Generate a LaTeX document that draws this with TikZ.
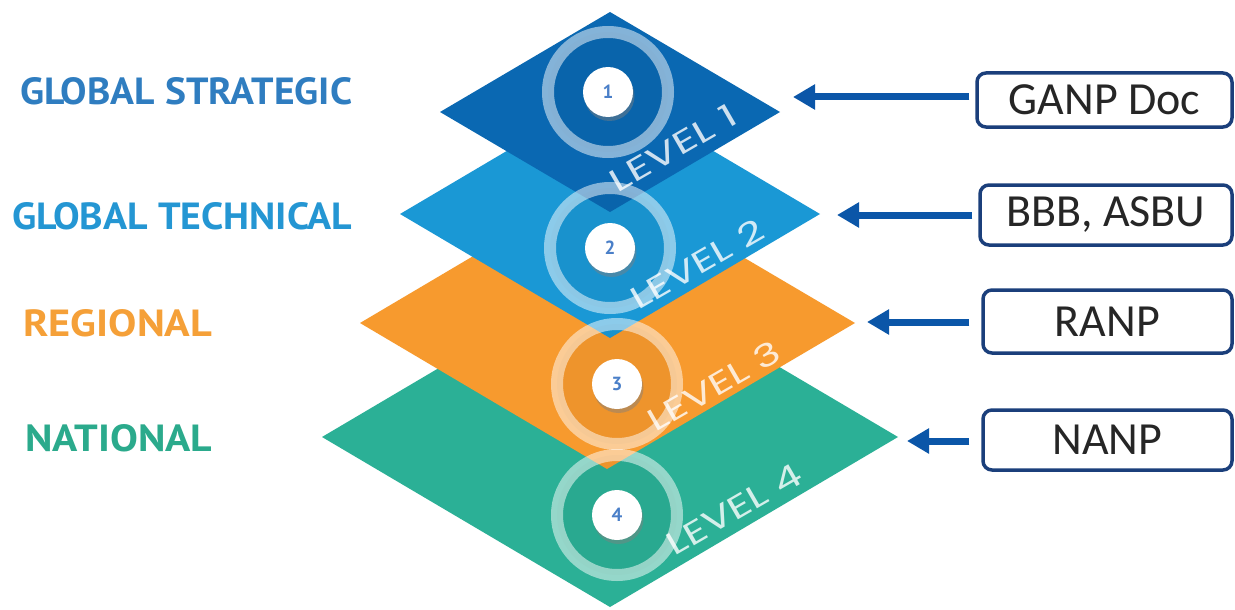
\documentclass[tikz,border=0pt]{standalone}
\usepackage{fontspec}
\setmainfont{Carlito}
\newfontfamily\dinfont{PT Sans}
\newfontfamily\lvlfont{Poppins}
\usetikzlibrary{arrows.meta,shadows}
\definecolor{lvA}{HTML}{0A68B2}
\definecolor{lvB}{HTML}{1A98D5}
\definecolor{lvC}{HTML}{F79A2E}
\definecolor{lvD}{HTML}{2BB096}
\definecolor{labA}{HTML}{2F7DC0}
\definecolor{labB}{HTML}{2496D3}
\definecolor{labC}{HTML}{F5A038}
\definecolor{labD}{HTML}{2BAA8C}
\definecolor{arrblue}{HTML}{0B56A8}
\definecolor{boxnavy}{HTML}{1B3F7B}
\definecolor{txtgrey}{HTML}{262626}
\definecolor{numblue}{HTML}{4A7FC8}
\begin{document}
\begin{tikzpicture}[x=1pt,y=-1pt,
  arr/.style={draw=arrblue, line width=7pt, -{Triangle[length=22pt,width=24pt]}},
  doc/.style={draw=boxnavy, line width=3.5pt, rounded corners=9pt, fill=white,
    inner sep=0pt, text=txtgrey, font=\fontsize{46}{50}\selectfont},
  lab/.style={anchor=west, inner sep=0pt, font=\dinfont\bfseries},
  ring/.style={circle, minimum size=120pt, inner sep=0pt, draw=white, draw opacity=0.5,
    line width=12pt, fill=black, fill opacity=0.035},
  disk/.style={circle, minimum size=50pt, inner sep=0pt, fill=white, text=numblue,
    font=\dinfont\bfseries\fontsize{19}{19}\selectfont,
    drop shadow={shadow xshift=1.5pt, shadow yshift=-4pt, opacity=0.45}},
  lvl/.style={inner sep=0pt, rotate=30, text=white, text opacity=0.8, font=\lvlfont}]
\useasboundingbox (0,0) rectangle (1235,610);
\fill[white] (0,0) rectangle (1235,610);

% layers, bottom to top
\fill[lvD] (322,437) -- (610,267) -- (898,437) -- (610,607) -- cycle;
\fill[lvC] (360,323) -- (607,177) -- (855,323) -- (607,469) -- cycle;
\fill[lvB] (400,214) -- (610,90) -- (820,214) -- (610,338) -- cycle;
\fill[lvA] (440,112) -- (610,12) -- (780,112) -- (610,212) -- cycle;

% rings and numbered disks
\node[ring] (r1) at (608,92) {};
\node[ring] (r2) at (610,248) {};
\node[ring] (r3) at (617,384) {};
\node[ring] (r4) at (617,515) {};
\node[disk] (d1) at (r1) {1};
\node[disk] (d2) at (r2) {2};
\node[disk] (d3) at (r3) {3};
\node[disk] (d4) at (r4) {4};

% level captions
\node[lvl] (t1) at (673,148) {\resizebox{142pt}{23pt}{LEVEL 1}};
\node[lvl] (t2) at (697,264) {\resizebox{148pt}{23pt}{LEVEL 2}};
\node[lvl] (t3) at (714,386) {\resizebox{148pt}{23pt}{LEVEL 3}};
\node[lvl] (t4) at (734,509) {\resizebox{150pt}{23pt}{LEVEL 4}};

% left labels
\node[lab, text=labA] (l1) at (20,91.5) {\resizebox{332pt}{27pt}{GLOBAL STRATEGIC}};
\node[lab, text=labB] (l2) at (12,216.5) {\resizebox{340pt}{27pt}{GLOBAL TECHNICAL}};
\node[lab, text=labC] (l3) at (23,323.5) {\resizebox{189pt}{27pt}{REGIONAL}};
\node[lab, text=labD] (l4) at (25,438) {\resizebox{187pt}{27pt}{NATIONAL}};

% document boxes
\node[doc, minimum width=255pt, minimum height=54pt] (g) at (1104.5,100) {GANP Doc};
\node[doc, minimum width=252pt, minimum height=60pt] (b) at (1106,215) {BBB, ASBU};
\node[doc, minimum width=249pt, minimum height=63pt] (r) at (1107.5,321.5) {RANP};
\node[doc, minimum width=249pt, minimum height=60pt] (n) at (1107.5,440) {NANP};

% arrow tips
\coordinate (tip1) at (793,97);
\coordinate (tip2) at (837,215);
\coordinate (tip3) at (867,322);
\coordinate (tip4) at (907,441);
\draw[arr] ([xshift=-6pt]tip1 -| g.west) -- (tip1);
\draw[arr] ([xshift=-6pt]tip2 -| b.west) -- (tip2);
\draw[arr] ([xshift=-12pt]tip3 -| r.west) -- (tip3);
\draw[arr] ([xshift=-12pt]tip4 -| n.west) -- (tip4);
\end{tikzpicture}
\end{document}
